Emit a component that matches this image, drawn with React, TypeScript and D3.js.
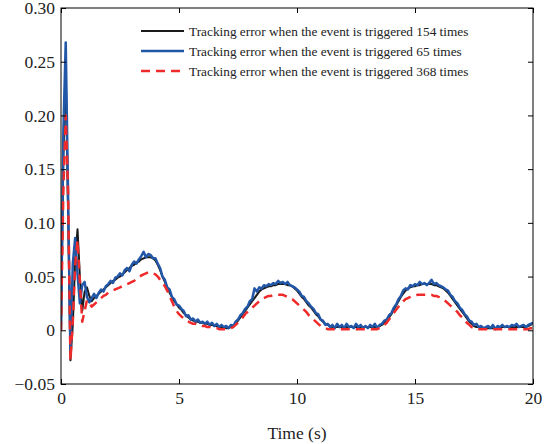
import React, { useEffect, useRef } from 'react';
import * as d3 from 'd3';

// sampling step of the recorded signals (s)
const timeStep = 0.1;

// Tracking error, 154 triggers (one row per second)
const error154 = [
  0.000, 0.160, 0.240, 0.110, -0.028, 0.005, 0.065, 0.094, 0.050, 0.018,
  0.036, 0.040, 0.032, 0.027, 0.030, 0.032, 0.034, 0.036, 0.038, 0.040,
  0.042, 0.044, 0.046, 0.047, 0.049, 0.050, 0.052, 0.054, 0.056, 0.058,
  0.060, 0.061, 0.063, 0.064, 0.066, 0.067, 0.068, 0.068, 0.068, 0.067,
  0.065, 0.061, 0.056, 0.050, 0.045, 0.040, 0.035, 0.031, 0.027, 0.024,
  0.021, 0.019, 0.016, 0.014, 0.012, 0.010, 0.009, 0.008, 0.008, 0.007,
  0.007, 0.006, 0.006, 0.005, 0.005, 0.004, 0.004, 0.003, 0.003, 0.003,
  0.002, 0.002, 0.003, 0.004, 0.006, 0.009, 0.012, 0.015, 0.018, 0.021,
  0.024, 0.027, 0.030, 0.033, 0.036, 0.038, 0.039, 0.040, 0.041, 0.041,
  0.042, 0.042, 0.043, 0.043, 0.043, 0.043, 0.042, 0.042, 0.041, 0.039,
  0.037, 0.034, 0.031, 0.029, 0.026, 0.023, 0.021, 0.018, 0.015, 0.013,
  0.010, 0.008, 0.006, 0.005, 0.004, 0.003, 0.003, 0.003, 0.003, 0.003,
  0.003, 0.003, 0.003, 0.003, 0.003, 0.003, 0.003, 0.003, 0.003, 0.003,
  0.003, 0.003, 0.003, 0.003, 0.003, 0.004, 0.005, 0.007, 0.009, 0.012,
  0.015, 0.019, 0.023, 0.027, 0.031, 0.034, 0.037, 0.039, 0.040, 0.041,
  0.041, 0.042, 0.042, 0.043, 0.043, 0.043, 0.043, 0.043, 0.042, 0.042,
  0.041, 0.040, 0.039, 0.037, 0.035, 0.032, 0.029, 0.026, 0.023, 0.020,
  0.017, 0.014, 0.011, 0.008, 0.006, 0.004, 0.003, 0.003, 0.002, 0.002,
  0.002, 0.002, 0.002, 0.002, 0.002, 0.002, 0.003, 0.003, 0.003, 0.003,
  0.003, 0.003, 0.003, 0.003, 0.003, 0.003, 0.003, 0.003, 0.004, 0.005,
  0.007,
];

// Tracking error, 65 triggers
const error65 = [
  0.000, 0.185, 0.268, 0.125, -0.022, 0.062, 0.086, 0.052, 0.025, 0.042,
  0.045, 0.031, 0.026, 0.030, 0.034, 0.030, 0.035, 0.038, 0.036, 0.041,
  0.043, 0.046, 0.044, 0.049, 0.050, 0.053, 0.051, 0.056, 0.058, 0.055,
  0.061, 0.064, 0.062, 0.066, 0.069, 0.073, 0.068, 0.071, 0.070, 0.067,
  0.067, 0.062, 0.058, 0.050, 0.047, 0.040, 0.038, 0.031, 0.029, 0.024,
  0.023, 0.020, 0.018, 0.013, 0.014, 0.010, 0.011, 0.008, 0.010, 0.007,
  0.008, 0.006, 0.008, 0.005, 0.007, 0.004, 0.006, 0.003, 0.005, 0.003,
  0.004, 0.002, 0.005, 0.004, 0.008, 0.010, 0.014, 0.016, 0.020, 0.022,
  0.027, 0.029, 0.039, 0.036, 0.040, 0.039, 0.042, 0.041, 0.043, 0.042,
  0.044, 0.043, 0.046, 0.044, 0.045, 0.043, 0.045, 0.042, 0.041, 0.040,
  0.038, 0.036, 0.032, 0.031, 0.027, 0.025, 0.022, 0.020, 0.016, 0.015,
  0.010, 0.009, 0.005, 0.006, 0.003, 0.005, 0.002, 0.006, 0.003, 0.005,
  0.002, 0.006, 0.003, 0.004, 0.002, 0.006, 0.003, 0.005, 0.002, 0.004,
  0.002, 0.005, 0.003, 0.006, 0.002, 0.005, 0.006, 0.009, 0.010, 0.014,
  0.016, 0.021, 0.024, 0.029, 0.032, 0.037, 0.039, 0.038, 0.042, 0.041,
  0.043, 0.042, 0.045, 0.043, 0.044, 0.042, 0.044, 0.047, 0.043, 0.044,
  0.042, 0.041, 0.040, 0.038, 0.037, 0.033, 0.031, 0.027, 0.025, 0.021,
  0.019, 0.015, 0.013, 0.009, 0.008, 0.005, 0.006, 0.003, 0.004, 0.002,
  0.003, 0.004, 0.002, 0.005, 0.001, 0.004, 0.003, 0.005, 0.003, 0.004,
  0.003, 0.005, 0.004, 0.006, 0.003, 0.004, 0.005, 0.003, 0.005, 0.006,
  0.007,
];

// Tracking error, 368 triggers
const error368 = [
  0.000, 0.130, 0.200, 0.130, -0.028, 0.008, 0.060, 0.084, 0.045, 0.008,
  0.018, 0.028, 0.026, 0.022, 0.024, 0.026, 0.028, 0.030, 0.032, 0.033,
  0.035, 0.036, 0.037, 0.038, 0.039, 0.040, 0.041, 0.042, 0.043, 0.044,
  0.045, 0.046, 0.048, 0.049, 0.051, 0.052, 0.053, 0.054, 0.054, 0.053,
  0.052, 0.050, 0.047, 0.044, 0.041, 0.037, 0.032, 0.027, 0.022, 0.018,
  0.015, 0.013, 0.011, 0.009, 0.008, 0.007, 0.006, 0.006, 0.005, 0.005,
  0.004, 0.004, 0.003, 0.003, 0.002, 0.002, 0.002, 0.001, 0.001, 0.001,
  0.001, 0.001, 0.002, 0.003, 0.005, 0.007, 0.009, 0.012, 0.015, 0.017,
  0.019, 0.021, 0.023, 0.025, 0.027, 0.029, 0.030, 0.031, 0.032, 0.032,
  0.033, 0.033, 0.033, 0.033, 0.033, 0.032, 0.031, 0.030, 0.029, 0.027,
  0.025, 0.023, 0.021, 0.019, 0.017, 0.014, 0.012, 0.010, 0.008, 0.006,
  0.004, 0.003, 0.002, 0.001, 0.001, 0.001, 0.001, 0.001, 0.001, 0.001,
  0.001, 0.001, 0.001, 0.001, 0.001, 0.001, 0.001, 0.001, 0.001, 0.001,
  0.001, 0.001, 0.001, 0.001, 0.001, 0.002, 0.003, 0.005, 0.007, 0.010,
  0.013, 0.016, 0.019, 0.022, 0.025, 0.027, 0.029, 0.030, 0.031, 0.032,
  0.032, 0.033, 0.033, 0.033, 0.033, 0.033, 0.033, 0.033, 0.032, 0.032,
  0.031, 0.030, 0.029, 0.027, 0.025, 0.023, 0.021, 0.019, 0.017, 0.014,
  0.012, 0.009, 0.007, 0.005, 0.003, 0.002, 0.001, 0.001, 0.001, 0.001,
  0.001, 0.001, 0.001, 0.001, 0.001, 0.001, 0.001, 0.001, 0.001, 0.001,
  0.001, 0.001, 0.001, 0.001, 0.001, 0.001, 0.001, 0.001, 0.001, 0.002,
  0.002,
];

const xTicks = [0, 5, 10, 15, 20];
const yTicks = [-0.05, 0, 0.05, 0.1, 0.15, 0.2, 0.25, 0.3];

const seriesList = [
  { label: 'Tracking error when the event is triggered 154 times', values: error154, color: '#1a1a1a', width: 2, dash: '' },
  { label: 'Tracking error when the event is triggered 65 times', values: error65, color: '#2257a8', width: 2.5, dash: '' },
  { label: 'Tracking error when the event is triggered 368 times', values: error368, color: '#ee2a2a', width: 2.5, dash: '9,6' },
];

const FONT = '"Liberation Serif", "Times New Roman", serif';

const App: React.FC = () => {
  const svgRef = useRef<SVGSVGElement>(null);

  useEffect(() => {
    if (!svgRef.current) return;
    const svg = d3.select(svgRef.current);
    svg.selectAll('*').remove();

    const margin = { top: 8, right: 17, bottom: 60, left: 61 };
    const width = 550 - margin.left - margin.right;
    const height = 444 - margin.top - margin.bottom;

    const g = svg.append('g').attr('transform', `translate(${margin.left},${margin.top})`);

    const xScale = d3.scaleLinear().domain([0, 20]).range([0, width]);
    const yScale = d3.scaleLinear().domain([-0.05, 0.3]).range([height, 0]);

    g.append('clipPath').attr('id', 'plot-clip')
      .append('rect').attr('width', width).attr('height', height);

    const line = d3.line<number>()
      .x((_, i) => xScale(i * timeStep))
      .y(d => yScale(d));

    seriesList.forEach(s => {
      g.append('path')
        .datum(s.values)
        .attr('clip-path', 'url(#plot-clip)')
        .attr('fill', 'none')
        .attr('stroke', s.color)
        .attr('stroke-width', s.width)
        .attr('stroke-dasharray', s.dash || null)
        .attr('stroke-linejoin', 'round')
        .attr('d', line);
    });

    // frame
    g.append('rect')
      .attr('width', width).attr('height', height)
      .attr('fill', 'none').attr('stroke', '#000').attr('stroke-width', 1);

    const fmtY = (d: number) => (d === 0 ? '0' : d3.format('.2f')(d).replace('-', '\u2212'));

    // axes with inward ticks on all sides
    g.append('g').attr('transform', `translate(0,${height})`)
      .call(d3.axisBottom(xScale).tickValues(xTicks).tickSizeInner(-5).tickSizeOuter(0).tickPadding(8).tickFormat(d3.format('d')))
      .call(a => a.select('.domain').remove());
    g.append('g')
      .call(d3.axisTop(xScale).tickValues(xTicks).tickSizeInner(-5).tickSizeOuter(0).tickFormat(() => ''))
      .call(a => a.select('.domain').remove());
    g.append('g')
      .call(d3.axisLeft(yScale).tickValues(yTicks).tickSizeInner(-5).tickSizeOuter(0).tickPadding(6).tickFormat(d => fmtY(d as number)))
      .call(a => a.select('.domain').remove());
    g.append('g').attr('transform', `translate(${width},0)`)
      .call(d3.axisRight(yScale).tickValues(yTicks).tickSizeInner(-5).tickSizeOuter(0).tickFormat(() => ''))
      .call(a => a.select('.domain').remove());

    g.selectAll('.tick text')
      .attr('font-family', FONT)
      .style('font-family', FONT)
      .style('font-size', '17.5px')
      .attr('fill', '#222');
    g.selectAll('.tick line').attr('stroke', '#000');

    g.append('text')
      .attr('x', width / 2)
      .attr('y', height + 55)
      .attr('text-anchor', 'middle')
      .style('font-family', FONT)
      .style('font-size', '17.5px')
      .attr('fill', '#222')
      .text('Time (s)');

    // Legend
    const legend = g.append('g').attr('transform', 'translate(80, 23)');
    seriesList.forEach((s, i) => {
      const row = legend.append('g').attr('transform', `translate(0, ${i * 20})`);
      row.append('line')
        .attr('x1', 0).attr('x2', 43)
        .attr('stroke', s.color)
        .attr('stroke-width', s.width)
        .attr('stroke-dasharray', s.dash || null);
      row.append('text')
        .attr('x', 48)
        .attr('dy', '0.35em')
        .style('font-family', FONT)
        .style('font-size', '13.3px')
        .attr('fill', '#222')
        .text(s.label);
    });
  }, []);

  return (
    <svg ref={svgRef} width={550} height={444}
      style={{ position: 'absolute', left: 0, top: 0, background: '#fff' }} />
  );
};

export default App;
